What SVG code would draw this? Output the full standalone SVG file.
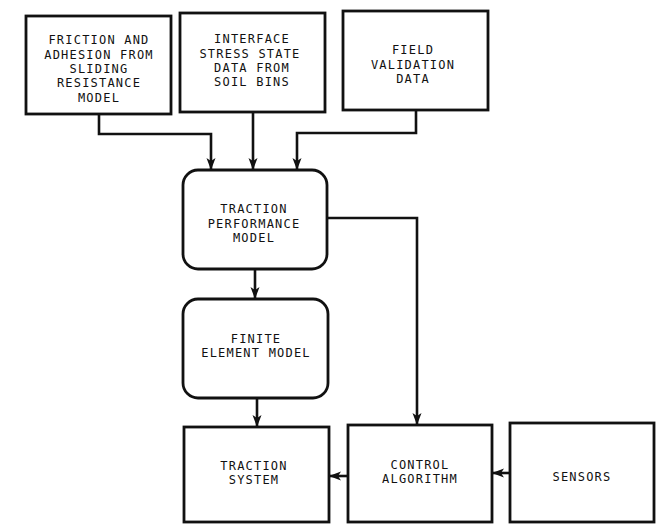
<svg xmlns="http://www.w3.org/2000/svg" width="661" height="525" viewBox="0 0 661 525">
<style>
.box{fill:#fff;stroke:#111;stroke-width:2.8}
.conn{fill:none;stroke:#111;stroke-width:2.6}
.t{font-family:"DejaVu Sans Mono","Liberation Mono",monospace;font-size:12px;letter-spacing:1.2px;fill:#111;text-anchor:middle}
</style>
<defs>
<marker id="ah" markerUnits="userSpaceOnUse" markerWidth="12" markerHeight="12" viewBox="0 0 12 10" refX="12" refY="5" orient="auto">
<path d="M0,0.5 L12,5 L0,9.5 L3,5 z" fill="#111"/>
</marker>
</defs>
<rect width="661" height="525" fill="#fff"/>
<g id="connectors">
<polyline class="conn" points="99,114 99,134 211,134 211,170" marker-end="url(#ah)"/>
<line class="conn" x1="253" y1="112" x2="253" y2="170" marker-end="url(#ah)"/>
<polyline class="conn" points="416,110 416,133 297,133 297,170" marker-end="url(#ah)"/>
<line class="conn" x1="255" y1="269" x2="255" y2="299" marker-end="url(#ah)"/>
<line class="conn" x1="257" y1="398" x2="257" y2="427" marker-end="url(#ah)"/>
<polyline class="conn" points="327,218 417,218 417,425" marker-end="url(#ah)"/>
<line class="conn" x1="348" y1="476" x2="329" y2="476" marker-end="url(#ah)"/>
<line class="conn" x1="510" y1="473" x2="492" y2="473" marker-end="url(#ah)"/>
</g>
<g id="friction">
<rect class="box" x="26" y="16" width="145" height="98"/>
<text class="t" x="99" y="44">FRICTION AND</text>
<text class="t" x="99" y="58.5">ADHESION FROM</text>
<text class="t" x="99" y="73">SLIDING</text>
<text class="t" x="99" y="87">RESISTANCE</text>
<text class="t" x="99" y="101.5">MODEL</text>
</g>
<g id="interface">
<rect class="box" x="180" y="13" width="145" height="99"/>
<text class="t" x="252" y="43">INTERFACE</text>
<text class="t" x="250" y="57.5">STRESS STATE</text>
<text class="t" x="252" y="71.5">DATA FROM</text>
<text class="t" x="252" y="85.5">SOIL BINS</text>
</g>
<g id="field">
<rect class="box" x="343" y="11" width="145" height="99"/>
<text class="t" x="413" y="54">FIELD</text>
<text class="t" x="413" y="69">VALIDATION</text>
<text class="t" x="413" y="83">DATA</text>
</g>
<g id="tpm">
<rect class="box" x="183" y="170" width="144" height="99" rx="15" ry="15"/>
<text class="t" x="254" y="213">TRACTION</text>
<text class="t" x="254" y="228">PERFORMANCE</text>
<text class="t" x="254" y="242">MODEL</text>
</g>
<g id="fem">
<rect class="box" x="183" y="299" width="145" height="99" rx="15" ry="15"/>
<text class="t" x="256" y="343">FINITE</text>
<text class="t" x="256" y="357">ELEMENT MODEL</text>
</g>
<g id="traction-system">
<rect class="box" x="184" y="427" width="145" height="95"/>
<text class="t" x="254" y="470">TRACTION</text>
<text class="t" x="254" y="484">SYSTEM</text>
</g>
<g id="control">
<rect class="box" x="348" y="425" width="144" height="97"/>
<text class="t" x="420" y="469">CONTROL</text>
<text class="t" x="420" y="483">ALGORITHM</text>
</g>
<g id="sensors">
<rect class="box" x="510" y="423" width="144" height="99"/>
<text class="t" x="582" y="481">SENSORS</text>
</g>
</svg>
